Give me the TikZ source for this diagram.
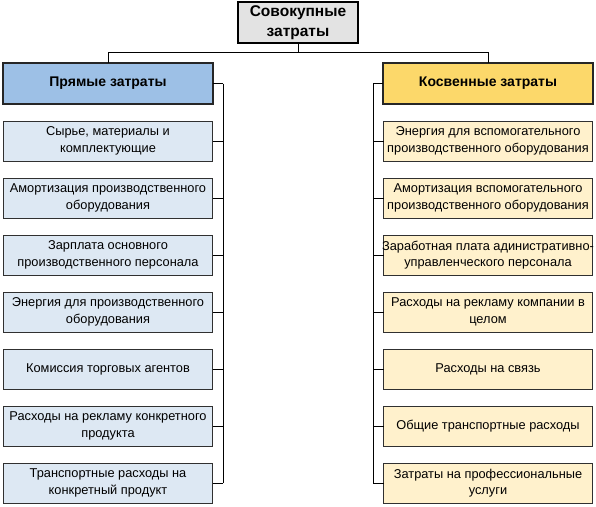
\documentclass[tikz,border=0pt]{standalone}
\usepackage{fontspec}
\setmainfont{Liberation Sans}
\usetikzlibrary{
    positioning
}

\definecolor{totalfill}{HTML}{E3E3E3}
\definecolor{directhead}{HTML}{9DC0E6}
\definecolor{directitem}{HTML}{DDE8F3}
\definecolor{indirecthead}{HTML}{FCD86A}
\definecolor{indirectitem}{HTML}{FFF1CC}
\definecolor{itemline}{HTML}{303030}

\begin{document}
\begin{tikzpicture}[
    x=1pt, y=1pt,
    every node/.style = {outer sep=0pt},
    totalbox/.style = {rectangle, draw=black, fill=totalfill, line width=1.6pt,
                       minimum width=120pt, minimum height=41pt, inner sep=1pt,
                       align=center, font=\fontsize{15.5}{19.5}\selectfont\bfseries},
    headbox/.style  = {rectangle, draw=black!85, line width=1.8pt,
                       minimum width=210pt, minimum height=41pt,
                       font=\fontsize{14}{16}\selectfont\bfseries},
    itembox/.style  = {rectangle, draw=itemline, line width=0.8pt,
                       minimum width=209pt, minimum height=40pt, inner sep=1pt,
                       align=center,
                       font=\fontsize{12.8}{16.5}\selectfont},
    directbox/.style   = {itembox, fill=directitem},
    indirectbox/.style = {itembox, fill=indirectitem},
    link/.style = {draw=black, line width=0.9pt},
    node distance=17pt
]
    \useasboundingbox (0,0) rectangle (596,-506);

    \node[totalbox] (total) at (298,-22.5) {Совокупные\\затраты};

    \node[headbox, fill=directhead] (direct) at (108,-83.5) {Прямые затраты};
    \node[headbox, fill=indirecthead] (indirect) at (488,-83.5) {Косвенные затраты};

    % прямые
    \node[directbox] (d1) [below=of direct] {Сырье, материалы и\\комплектующие};
    \node[directbox] (d2) [below=of d1] {Амортизация производственного\\оборудования};
    \node[directbox] (d3) [below=of d2] {Зарплата основного\\производственного персонала};
    \node[directbox] (d4) [below=of d3] {Энергия для производственного\\оборудования};
    \node[directbox] (d5) [below=of d4] {Комиссия торговых агентов};
    \node[directbox] (d6) [below=of d5] {Расходы на рекламу конкретного\\продукта};
    \node[directbox] (d7) [below=of d6] {Транспортные расходы на\\конкретный продукт};

    % косвенные
    \node[indirectbox] (i1) [below=of indirect] {Энергия для вспомогательного\\производственного оборудования};
    \node[indirectbox] (i2) [below=of i1] {Амортизация вспомогательного\\производственного оборудования};
    \node[indirectbox] (i3) [below=of i2] {\makebox[200pt]{Заработная плата адинистративно-}\\управленческого персонала};
    \node[indirectbox] (i4) [below=of i3] {Расходы на рекламу компании в\\целом};
    \node[indirectbox] (i5) [below=of i4] {Расходы на связь};
    \node[indirectbox] (i6) [below=of i5] {Общие транспортные расходы};
    \node[indirectbox] (i7) [below=of i6] {Затраты на профессиональные\\услуги};

    \draw[link] (total.south) -- ++(0,-9) coordinate (split);
    \draw[link] (split) -| (direct.north);
    \draw[link] (split) -| (indirect.north);

    \draw[link] (direct.east) -- ++(10,0) coordinate (dbus);
    \draw[link] (dbus) -- (dbus |- d7.east);
    \draw[link] (indirect.west) -- ++(-10,0) coordinate (ibus);
    \draw[link] (ibus) -- (ibus |- i7.west);

    \foreach \k in {1,...,7} {
        \draw[link] (dbus |- d\k.east) -- (d\k.east);
        \draw[link] (ibus |- i\k.west) -- (i\k.west);
    }

\end{tikzpicture}
\end{document}
